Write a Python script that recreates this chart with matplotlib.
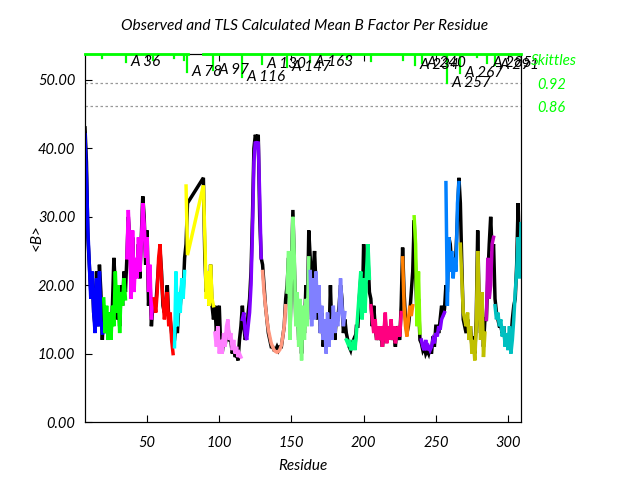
import matplotlib
matplotlib.use("Agg")
import matplotlib.pyplot as plt

plt.rcParams['font.family'] = ['Lato', 'DejaVu Sans']
plt.rcParams['font.style'] = 'italic'
plt.rcParams['font.size'] = 10.5

# ------------------------------
# data: residues 79-88 are missing
# ------------------------------
residues = list(range(7, 79)) + list(range(89, 310))

b_tls = [
    42, 36, 28, 23, 18, 22, 16, 13, 21, 14, 22, 15, 13,                        # 7-19
    18, 13, 17, 12, 16, 12, 17, 14, 22, 16, 20, 13, 19, 17, 21, 18,            # 20-35
    24, 31, 26, 18, 28, 19, 24, 21, 27, 22, 26, 32, 29, 24, 27, 19, 23, 15, 18,  # 36-54
    18, 16, 19, 24, 26, 21, 18, 15, 17, 19, 14, 16, 12, 10,                    # 55-68
    11, 22, 14, 19, 16, 21, 18, 22,                                            # 69-76
    34.5, 24.4,                                                                # 77-78
    34.6, 27, 18, 22, 17, 23, 18, 17,                                          # 89-96
    13, 11, 14, 10, 12, 10, 13, 11, 14, 15, 12, 13, 10.5, 12, 10, 11, 9.5, 10, 9.5,  # 97-115
    15, 16, 13, 12, 14, 16, 20, 28, 38, 41, 40.5, 41, 33, 24,                  # 116-129
    22, 19, 17, 15, 13.5, 12.5, 11.5, 11, 10.5, 10.3, 10.2, 10.3, 10.6, 11.2, 12.5, 14, 17,  # 130-146
    19, 25, 12, 22, 30, 24, 14, 19, 11, 18, 9, 17, 12, 18, 14, 24,             # 147-162
    22, 14, 21, 15, 22, 16, 20, 13, 17, 12, 15, 10, 16, 11, 15, 12, 17, 13, 16, 14, 16, 21, 17, 14, 16,  # 163-187
    12, 11.5, 12, 10.5, 11, 12, 10.5, 13, 16, 19, 22, 15, 21, 16, 22, 26, 21,   # 188-204
    17, 15, 13, 15, 12, 14, 12, 14, 11, 13, 16, 11.5, 14, 12, 15, 12, 14, 11.5, 13, 14, 12.5, 16,  # 205-226
    24, 17, 14, 12.5, 15, 17, 15.5, 17,                                        # 227-234
    30, 26, 14, 22, 13,                                                        # 235-239
    12, 11, 10.5, 12, 10.5, 11, 10.5, 11, 12, 11.5, 13, 12.5, 14, 13.5, 15, 15.5, 16,  # 240-256
    35, 17, 27, 22, 25, 21, 24, 22, 32, 35,                                    # 257-266
    26, 21, 16, 15, 14, 16, 12, 14, 10, 12, 9, 14, 25, 18, 12, 19, 9.5, 13,     # 267-284
    15, 24, 18, 20, 26, 27,                                                    # 285-290
    17, 15, 16, 14, 15, 12.5, 14, 11, 13, 10.5, 14, 10, 12, 15, 19, 22, 27, 21, 29,  # 291-309
]

b_obs = [
    43, 38, 27, 23, 19, 21, 16, 14, 22, 14, 23, 19, 12,
    17, 13, 15, 12, 16, 13, 17, 24, 20, 15, 19, 14, 20, 17, 22, 19,
    24, 30, 27, 19, 27, 21, 23, 22, 26, 21, 27, 33, 30, 23, 28, 17, 21, 14, 17,
    16, 17, 20, 23, 25, 22, 17, 16, 17, 20, 15, 15, 13, 11,
    12, 14, 13, 17, 17, 20, 19, 24,
    26, 32,
    35.7, 24, 19, 21, 17, 23, 17, 15,
    17, 13, 16, 17, 11, 10, 12, 11, 13, 14, 12, 12, 10, 11, 9.5, 10, 9, 12, 14,
    17, 14, 12, 13, 16, 18, 22, 30, 40, 42, 41, 42, 30, 24,
    23, 20, 17, 15, 13, 12, 11, 11, 10.5, 10.5, 11, 10.5, 11, 11, 12.5, 14, 18,
    20, 24, 13, 22, 31, 23, 15, 18, 12, 17, 10, 16, 13, 20, 15, 28,
    24, 15, 22, 25, 20, 15, 19, 13, 16, 11, 14, 11, 15, 12, 20, 13, 16, 12, 15, 15, 17, 20, 18, 13, 15,
    13, 12, 11, 10.5, 11.5, 12, 11, 14, 14, 18, 21, 16, 26, 20, 21, 24, 19,
    18, 14, 17, 14, 12, 13, 12.5, 13, 11, 13, 15, 12, 13, 12.5, 14, 12, 13, 11, 14, 13, 12, 17,
    25.5, 19, 15, 13, 14, 16, 19, 22,
    29.5, 22, 15, 18, 12,
    11.5, 10.5, 11, 10, 10.5, 10, 11, 10, 12.5, 11, 14, 14, 13, 15, 17, 15.5, 16.5,
    20, 19, 27, 26, 23, 24, 22, 25, 30, 35.7,
    32, 23, 15, 14, 13, 15, 13, 14, 11, 12.5, 10, 15, 28, 17, 13, 18, 11, 15,
    15, 21, 26, 30, 25, 26,
    18, 16, 15, 14, 14, 13, 14, 11.5, 12, 11, 13, 12, 15, 17, 18, 23, 32, 24, 24,
]

# TLS segments: first residue of each, and colour
seg_first = [7, 20, 36, 55, 69, 77, 97, 116, 130, 147, 163, 188, 205, 227, 235, 240, 257, 267, 285, 291, 310]
seg_colors = ['#0000ff', '#00ff00', '#ff00ff', '#ff0000', '#00ffff', '#ffff00', '#ff80ff',
              '#8000ff', '#ff9980', '#80ff80', '#8080ff', '#00ff80', '#ff0080', '#ff8000',
              '#80ff00', '#8000ff', '#0080ff', '#c0c000', '#c000c0', '#00c0c0']

# skittles (segment boundary markers)
skit_res = [18.6, 35.3, 54, 68.7, 75.6, 77.5, 95.9, 115.6, 129.4, 146.7, 162.9, 188.3,
            204.9, 227, 235.5, 240.2, 257.5, 266.8, 278.3, 285.6, 291]
skit_val = [0.986, 0.975, 0.981, 0.986, 0.980, 0.949, 0.954, 0.936, 0.970, 0.962, 0.975, 0.983,
            0.977, 0.980, 0.967, 0.972, 0.920, 0.947, 0.988, 0.972, 0.967]
skit_lbl = ['', 'A 36', '', '', '', 'A 78', 'A 97', 'A 116', 'A 130', 'A 147', 'A 163', '',
            '', '', 'A 234', 'A 240', 'A 257', 'A 267', '', 'A 285', 'A 291']
skit_top_runs = [(7, 78), (89, 309)]

xticks = [50, 100, 150, 200, 250, 300]
yticks = [0, 10, 20, 30, 40, 50]
skit_ticks = [0.86, 0.92]


# ------------------------------
# PLOT
# ------------------------------
fig = plt.figure(figsize=(6.4, 4.8), dpi=100)
ax = fig.add_axes([85/640, 58/480, 436/640, 368/480])

ax.plot(residues, b_obs, color='black', lw=2.5, solid_joinstyle='miter', zorder=2)
for i, col in enumerate(seg_colors):
    idx = [k for k, r in enumerate(residues) if seg_first[i] <= r < seg_first[i+1]]
    ax.plot([residues[k] for k in idx], [b_tls[k] for k in idx], color=col, lw=2.5,
            solid_joinstyle='miter', zorder=3)

ax.set_xlim(7, 309)
ax.set_ylim(0, 53.8)
ax.set_xticks(xticks)
ax.set_yticks(yticks)
ax.set_yticklabels(['%.2f' % v for v in yticks])
ax.tick_params(axis='x', direction='in', top=True, length=5, pad=10)
ax.tick_params(axis='y', direction='in', right=True, length=5, pad=7)

# right axis for skittles
ax2 = ax.twinx()
ax2.set_ylim(0.0357, 0.9957)
ax2.set_yticks(skit_ticks)
ax2.set_yticklabels(['%.2f' % v for v in skit_ticks], color='#00ff00')
ax2.tick_params(axis='y', direction='in', length=0, pad=12)
for v in skit_ticks:
    ax2.axhline(v, color='#999999', lw=0.9, ls=(0, (2, 2)), zorder=1)
for a, b in skit_top_runs:
    ax2.plot([a, b], [0.9957, 0.9957], color='#00ff00', lw=2, clip_on=False, zorder=4)
for r, v, t in zip(skit_res, skit_val, skit_lbl):
    ax2.plot([r, r], [0.9957, v], color='#00ff00', lw=1.6, zorder=4)
    if t:
        ax2.annotate(t, (r, v), xytext=(3.5, 0), textcoords='offset points',
                     ha='left', va='center', fontsize=11, zorder=5)

fig.text(531/640, 1 - 61/480, 'Skittles', color='#00ff00', ha='left', va='center', fontsize=11)
fig.text(305/640, 1 - 26/480, 'Observed and TLS Calculated Mean B Factor Per Residue',
         ha='center', va='center', fontsize=11.2)
fig.text(37/640, 1 - 238/480, '<B>', rotation=90, ha='center', va='center', fontsize=11)
fig.text(303/640, 1 - 466/480, 'Residue', ha='center', va='center', fontsize=11)

fig.savefig('out.png', dpi=100)
